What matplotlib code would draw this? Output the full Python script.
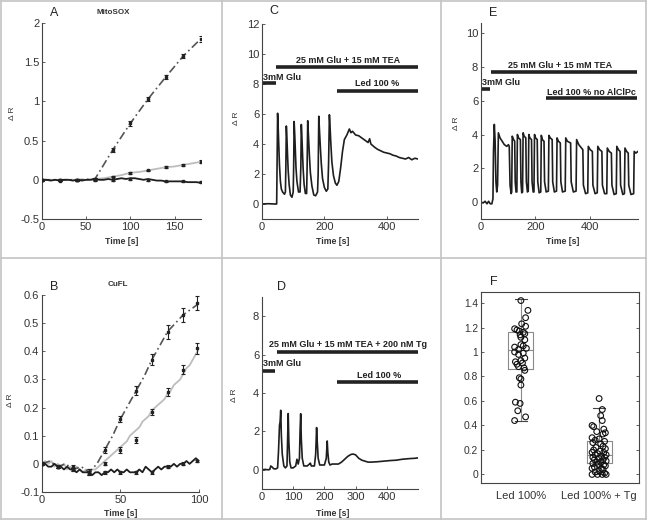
import matplotlib
matplotlib.use("Agg")
import matplotlib.pyplot as plt
from matplotlib.lines import Line2D
from matplotlib.ticker import FormatStrFormatter

plt.rcParams['font.family'] = ['Liberation Sans', 'DejaVu Sans']

W, H = 648, 522

# ---------------- Panel A (MitoSOX) ----------------
a_trace_t = list(range(0, 181, 5))
a_black = [0.00, 0.00, -0.01, 0.00, -0.01, 0.00, 0.00, -0.01, 0.00, -0.01, 0.00, 0.00, 0.01,
           0.00, 0.00, 0.01, 0.00, 0.01, 0.02, 0.01, 0.02, 0.02, 0.01, 0.00, 0.01, 0.00, -0.01,
           -0.01, -0.02, -0.02, -0.02, -0.02, -0.02, -0.03, -0.03, -0.03, -0.04]
a_gray_t = list(range(0, 181, 10))
a_gray = [0, 0, 0, 0, 0, 0, 0.01, 0.02, 0.04, 0.06, 0.09, 0.10, 0.12, 0.14, 0.16, 0.17, 0.19, 0.21, 0.23]
a_mark_t = [0, 20, 40, 60, 80, 100, 120, 140, 160, 180]
a_dark_m = [0.00, 0.00, 0.00, 0.01, 0.38, 0.72, 1.03, 1.31, 1.58, 1.80]
a_dark_e = [0.01, 0.01, 0.01, 0.01, 0.02, 0.03, 0.03, 0.03, 0.03, 0.04]
a_gray_m = [0.00, 0.00, 0.00, 0.01, 0.04, 0.09, 0.12, 0.16, 0.19, 0.23]
a_gray_e = [0.01, 0.01, 0.01, 0.01, 0.01, 0.01, 0.01, 0.01, 0.015, 0.02]
a_black_m = [0.00, -0.01, 0.00, 0.00, 0.00, 0.01, 0.00, -0.02, -0.02, -0.03]
a_black_e = [0.01] * 10

# ---------------- Panel B (CuFL) ----------------
b_trace_t = list(range(0, 101, 2))
b_black = [0.00, 0.00, -0.01, -0.01, 0.00, -0.01, -0.01, -0.02, -0.01, -0.02, -0.02,
           -0.03, -0.02, -0.03, -0.03, -0.03, -0.04, -0.03, -0.03, -0.04, -0.03,
           -0.03, -0.02, -0.03, -0.02, -0.03, -0.03, -0.02, -0.03, -0.03, -0.03,
           -0.02, -0.03, -0.01, -0.02, -0.03, -0.02, -0.01, -0.02, -0.01, -0.01,
           -0.01, 0.00, -0.01, 0.00, 0.00, 0.01, 0.00, 0.01, 0.02, 0.01]
b_gray = [0.00, 0.01, 0.00, 0.01, -0.01, 0.00, -0.01, 0.00, -0.02, -0.01, -0.02,
          -0.01, -0.02, -0.03, -0.02, -0.03, -0.02, -0.02, -0.01, 0.00, 0.01,
          0.02, 0.03, 0.04, 0.05, 0.06, 0.07, 0.08, 0.10, 0.11, 0.12,
          0.13, 0.15, 0.16, 0.17, 0.19, 0.20, 0.21, 0.22, 0.23, 0.25,
          0.26, 0.28, 0.29, 0.30, 0.32, 0.34, 0.35, 0.37, 0.39, 0.41]
b_dark_t = list(range(0, 101, 5))
b_dark = [0.00, 0.01, -0.01, 0.00, -0.02, -0.01, -0.03, 0.00, 0.05, 0.10, 0.16,
          0.21, 0.26, 0.31, 0.37, 0.42, 0.47, 0.50, 0.53, 0.55, 0.57]
b_mark_t = [0, 10, 20, 30, 40, 50, 60, 70, 80, 90, 99]
b_dark_m = [0.00, -0.01, -0.02, -0.03, 0.05, 0.16, 0.26, 0.37, 0.47, 0.53, 0.57]
b_dark_e = [0.005, 0.005, 0.005, 0.01, 0.01, 0.01, 0.015, 0.02, 0.025, 0.025, 0.025]
b_gray_m = [0.00, -0.01, -0.01, -0.03, 0.00, 0.05, 0.085, 0.185, 0.255, 0.335, 0.41]
b_gray_e = [0.005, 0.005, 0.005, 0.01, 0.005, 0.01, 0.01, 0.01, 0.015, 0.015, 0.02]
b_black_m = [0.00, -0.01, -0.02, -0.03, -0.03, -0.03, -0.03, -0.03, -0.01, 0.00, 0.01]
b_black_e = [0.005] * 11

# ---------------- Panel C ----------------
c_t = [0, 20, 40, 47, 48.5, 50, 52, 54, 56, 59, 62, 66, 72,
       75, 76.5, 78, 80, 82, 84, 87, 91, 96,
       100, 101.5, 103, 105, 107, 109, 112, 117, 122,
       124.5, 126, 128, 130, 132, 135, 139, 143,
       144.5, 146.5, 149, 152, 155, 160, 166, 172, 178,
       180, 182, 184, 187, 190, 194, 200, 206, 211,
       213.5, 216, 218, 221, 224, 229, 235, 240,
       246, 252, 258, 264, 272, 280, 285, 290, 300,
       310, 320, 330, 340, 345, 349, 360, 370, 380, 390, 400, 410, 420, 430, 440, 450,
       460, 470, 480, 490, 500]
c_v = [0, 0.02, 0, 0, 3.0, 6.05, 5.0, 3.8, 2.6, 1.5, 1.0, 0.8, 0.65,
       0.8, 2.5, 5.2, 4.3, 3.2, 2.2, 1.3, 0.6, 0.45,
       0.8, 2.5, 5.5, 4.6, 3.5, 2.4, 1.5, 0.8, 0.8,
       2.5, 5.3, 4.4, 3.3, 2.3, 1.3, 0.7, 0.7,
       2.3, 5.55, 4.5, 3.2, 2.1, 1.2, 0.6, 0.55, 0.8,
       2.0, 5.85, 5.0, 3.8, 2.7, 1.7, 1.1, 0.85, 1.0,
       2.8, 5.95, 5.2, 3.9, 2.8, 1.9, 1.4, 1.25,
       1.5, 2.4, 3.5, 4.3, 4.6, 5.0, 4.75, 4.85, 4.6,
       4.55, 4.4, 4.25, 4.1, 4.35, 4.0, 3.8, 3.65, 3.55, 3.45, 3.4, 3.35, 3.25, 3.2, 3.1, 3.05,
       3.0, 3.1, 2.95, 3.05, 3.0]

# ---------------- Panel D ----------------
d_t = [0, 10, 20, 25, 28, 32, 38, 45, 50, 53, 56, 58, 60, 62, 65, 70, 75, 80, 82, 84, 86, 89,
       93, 100, 108, 112, 116, 120, 122, 124, 126, 129, 134, 145, 152, 155, 158, 168, 172,
       175, 177, 180, 185, 200, 206, 209, 211, 214, 218, 225, 235, 245, 255, 265, 275, 285,
       292, 300, 310, 320, 330, 340, 350, 370, 390, 410, 430, 450, 470, 490, 500]
d_v = [0, 0.02, 0, 0.02, 0.2, 0.15, 0.05, 0.05, 0.1, 1.0, 2.3, 2.5, 3.1, 1.8, 0.8, 0.2, 0.1, 0.2, 1.5, 2.93, 1.5, 0.4,
       0.1, 0.1, 0.2, 0.55, 0.3, 0.6, 2.0, 2.92, 1.6, 0.6, 0.2, 0.2, 0.3, 0.35, 0.2, 0.2, 0.8,
       2.2, 1.5, 0.6, 0.25, 0.25, 0.6, 1.5, 0.9, 0.4, 0.25, 0.3, 0.3, 0.3, 0.4, 0.55, 0.7, 0.8,
       0.82, 0.78, 0.6, 0.5, 0.45, 0.4, 0.4, 0.42, 0.45, 0.48, 0.5, 0.55, 0.58, 0.6, 0.62]

# ---------------- Panel E ----------------
e_t = [0, 8, 15, 22, 28, 34, 40, 44, 46, 49, 52, 55, 58, 61, 64, 70, 78, 86, 95, 101, 104, 107, 111,
       113, 115, 120, 124, 126, 129, 132, 134, 138, 145, 147, 150, 153, 155, 159, 165, 167, 171,
       174, 176, 180, 186, 188, 192, 195, 197, 201, 207, 209, 214, 220, 222, 226, 232, 234, 240,
       248, 250, 255, 262, 264, 270, 278, 280, 285, 292, 294, 300, 310, 312, 318, 330, 332, 340,
       350, 352, 360, 375, 377, 385, 393, 395, 402, 410, 412, 420, 428, 430, 437, 445, 447, 455,
       463, 465, 472, 480, 482, 490, 498, 500, 506, 512, 514, 522, 528, 530, 536, 542, 544, 552,
       562, 564, 570, 578]
e_v = [0, -0.05, 0.05, -0.1, 0.05, -0.1, -0.1, 0.2, 3.0, 4.6, 3.6, 1.2, 0.6, 1.0, 4.1, 3.8, 3.6, 3.4, 3.3, 3.4, 3.3, 1.0, 0.5,
       0.6, 3.9, 3.7, 3.6, 1.2, 0.6, 0.6, 4.0, 3.8, 3.7, 1.2, 0.55, 0.6, 4.1, 3.9, 3.8, 1.2, 0.6,
       0.65, 4.0, 3.8, 3.7, 1.2, 0.6, 0.6, 4.0, 3.8, 3.7, 1.2, 0.55, 0.6, 3.95, 3.7, 3.6, 1.2, 0.6,
       0.65, 3.95, 3.8, 3.7, 1.2, 0.6, 0.65, 3.8, 3.6, 3.5, 1.2, 0.6, 0.65, 3.8, 3.6, 3.5, 1.2, 0.6,
       0.65, 3.7, 3.4, 3.1, 1.0, 0.5, 0.55, 3.3, 3.1, 3.0, 1.0, 0.5, 0.55, 3.3, 3.1, 3.0, 1.0, 0.5,
       0.5, 3.2, 3.0, 2.9, 1.0, 0.45, 0.5, 3.3, 3.1, 3.0, 1.0, 0.45, 0.5, 3.2, 3.0, 2.9, 1.0, 0.45,
       0.5, 3.0, 2.9, 3.0]

# ---------------- Panel F ----------------
f_labels = ['Led 100%', 'Led 100% + Tg']
f_g1 = [1.42, 1.34, 1.28, 1.23, 1.21, 1.19, 1.18, 1.17, 1.16, 1.15, 1.14, 1.12, 1.10, 1.06, 1.05,
        1.04, 1.03, 1.02, 1.00, 0.99, 0.98, 0.95, 0.93, 0.92, 0.91, 0.90, 0.88, 0.87, 0.85,
        0.79, 0.78, 0.73, 0.59, 0.58, 0.52, 0.47, 0.44]
f_g1_dx = [0.0, 0.09, 0.06, 0.01, 0.06, -0.08, -0.05, -0.02, 0.03, 0.05, -0.01, 0.0, 0.05, 0.0, 0.03,
           -0.08, 0.07, -0.03, -0.08, 0.03, -0.03, 0.05, 0.0, -0.07, 0.02, -0.05, -0.03, 0.04, 0.05,
           -0.02, 0.0, 0.0, -0.07, -0.01, -0.04, 0.06, -0.08]
f_g2 = [0.62, 0.53, 0.48, 0.44, 0.40, 0.39, 0.37, 0.35, 0.34, 0.33, 0.30, 0.29, 0.28, 0.27, 0.26,
        0.25, 0.23, 0.22, 0.21, 0.20, 0.19, 0.18, 0.18, 0.17, 0.16, 0.16, 0.15, 0.14, 0.14, 0.13,
        0.12, 0.12, 0.11, 0.10, 0.10, 0.09, 0.08, 0.08, 0.07, 0.06, 0.05, 0.05, 0.04, 0.03, 0.02,
        0.01, 0.00, 0.00, 0.00, 0.00]
f_g2_dx = [0.0, 0.04, 0.02, 0.04, -0.09, -0.07, 0.06, -0.03, 0.08, 0.05, -0.09, 0.0, -0.05, 0.07, -0.08,
           0.02, 0.05, -0.04, 0.08, -0.07, 0.01, -0.09, 0.06, -0.02, 0.09, -0.05, 0.03, -0.08, 0.07, 0.0,
           -0.06, 0.05, 0.09, -0.03, 0.02, -0.08, 0.06, -0.01, 0.08, -0.06, 0.03, -0.09, 0.05, 0.0, -0.05,
           0.07, -0.09, -0.02, 0.04, 0.09]
f_box1 = dict(q1=0.86, med=1.02, q3=1.16, lo=0.44, hi=1.43)
f_box2 = dict(q1=0.09, med=0.16, q3=0.275, lo=0.0, hi=0.54)

fig = plt.figure(figsize=(W / 100, H / 100), dpi=100)

def rect(l, r, t, b):
    return [l / W, 1 - b / H, (r - l) / W, (b - t) / H]

def ftext(x, y, s, **kw):
    fig.text(x / W, 1 - y / H, s, **kw)

TXT = '#333333'
def style(ax, box=False):
    for s in ['left', 'bottom', 'right', 'top']:
        ax.spines[s].set_color('#444444')
        ax.spines[s].set_linewidth(0.8)
    if not box:
        ax.spines['right'].set_visible(False)
        ax.spines['top'].set_visible(False)
    ax.tick_params(direction='in', length=2, width=0.6, colors='#444444',
                   labelsize=8, labelcolor=TXT, pad=2)
    ax.yaxis.set_major_formatter(FormatStrFormatter('%g'))
    ax.xaxis.set_major_formatter(FormatStrFormatter('%g'))

DARK = '#555555'
LIGHT = '#bdbdbd'
BLK = '#1e1e1e'
ekw = dict(fmt='s', ms=1.9, color='#222222', ecolor='#222222', elinewidth=0.8,
           capsize=1.2, capthick=0.8, zorder=5)

# Panel A
axA = fig.add_axes(rect(42, 201, 23, 219))
axA.plot(a_gray_t, a_gray, color=LIGHT, lw=1.3, zorder=2)
axA.plot(a_mark_t, a_dark_m, color=DARK, lw=1.2, ls=(0, (5, 2, 1, 2)), zorder=3)
axA.plot(a_trace_t, a_black, color=BLK, lw=1.3, zorder=4)
axA.errorbar(a_mark_t, a_dark_m, yerr=a_dark_e, **ekw)
axA.errorbar(a_mark_t, a_gray_m, yerr=a_gray_e, **ekw)
axA.errorbar(a_mark_t, a_black_m, yerr=a_black_e, **ekw)
axA.set_xlim(0, 180)
axA.set_ylim(-0.5, 2)
axA.set_xticks([0, 50, 100, 150])
axA.set_yticks([-0.5, 0, 0.5, 1, 1.5, 2])
style(axA)

# Panel B
axB = fig.add_axes(rect(42, 199, 295, 492))
axB.plot(b_trace_t, b_gray, color=LIGHT, lw=1.3, zorder=2)
axB.plot(b_dark_t, b_dark, color=DARK, lw=1.2, ls=(0, (5, 2, 1, 2)), zorder=3)
axB.plot(b_trace_t, b_black, color=BLK, lw=1.3, zorder=4)
axB.errorbar(b_mark_t, b_dark_m, yerr=b_dark_e, **ekw)
axB.errorbar(b_mark_t, b_gray_m, yerr=b_gray_e, **ekw)
axB.errorbar(b_mark_t, b_black_m, yerr=b_black_e, **ekw)
axB.set_xlim(0, 100)
axB.set_ylim(-0.1, 0.6)
axB.set_xticks([0, 50, 100])
axB.set_yticks([-0.1, 0, 0.1, 0.2, 0.3, 0.4, 0.5, 0.6])
style(axB)

barkw = dict(color='#222222', lw=2.6, solid_capstyle='butt')
bfont = dict(fontsize=6.5, fontweight='bold', color='#222222')

# Panel C
axC = fig.add_axes(rect(262, 418, 24, 219))
axC.plot(c_t, c_v, color=BLK, lw=1.2)
axC.plot([46, 500], [9.1, 9.1], **barkw)
axC.plot([0, 44], [8.05, 8.05], **barkw)
axC.plot([240, 500], [7.55, 7.55], **barkw)
axC.text(277, 9.55, '25 mM Glu + 15 mM TEA', ha='center', va='center', **bfont)
axC.text(3, 8.45, '3mM Glu', ha='left', va='center', **bfont)
axC.text(368, 8.0, 'Led 100 %', ha='center', va='center', **bfont)
axC.set_xlim(0, 500)
axC.set_ylim(-1, 12)
axC.set_xticks([0, 200, 400])
axC.set_yticks([0, 2, 4, 6, 8, 10, 12])
style(axC)

# Panel D
axD = fig.add_axes(rect(262, 418, 297, 489))
axD.plot(d_t, d_v, color=BLK, lw=1.2)
axD.plot([49, 500], [6.15, 6.15], **barkw)
axD.plot([0, 41], [5.15, 5.15], **barkw)
axD.plot([241, 500], [4.55, 4.55], **barkw)
axD.text(276, 6.55, '25 mM Glu + 15 mM TEA + 200 nM Tg', ha='center', va='center', **bfont)
axD.text(3, 5.55, '3mM Glu', ha='left', va='center', **bfont)
axD.text(375, 4.9, 'Led 100 %', ha='center', va='center', **bfont)
axD.set_xlim(0, 500)
axD.set_ylim(-1, 9)
axD.set_xticks([0, 100, 200, 300, 400])
axD.set_yticks([0, 2, 4, 6, 8])
style(axD)

# Panel E
axE = fig.add_axes(rect(481, 638, 23, 219))
axE.plot(e_t, e_v, color=BLK, lw=1.2)
axE.plot([37, 574], [7.72, 7.72], **barkw)
axE.plot([0, 34], [6.7, 6.7], **barkw)
axE.plot([239, 574], [6.14, 6.14], **barkw)
axE.text(292, 8.1, '25 mM Glu + 15 mM TEA', ha='center', va='center', **bfont)
axE.text(4, 7.05, '3mM Glu', ha='left', va='center', **bfont)
axE.text(408, 6.5, 'Led 100 % no AlClPc', ha='center', va='center', **bfont)
axE.set_xlim(0, 578)
axE.set_ylim(-1, 10.6)
axE.set_xticks([0, 200, 400])
axE.set_yticks([0, 2, 4, 6, 8, 10])
style(axE)

# Panel F
axF = fig.add_axes(rect(481, 639, 292, 483))
BOXC = '#8a8a8a'
for pos, bx in zip([1, 2], [f_box1, f_box2]):
    hw = 0.16
    axF.plot([pos - hw, pos + hw, pos + hw, pos - hw, pos - hw],
             [bx['q1'], bx['q1'], bx['q3'], bx['q3'], bx['q1']], color=BOXC, lw=0.8, zorder=1)
    axF.plot([pos - hw, pos + hw], [bx['med'], bx['med']], color=BOXC, lw=0.8, zorder=1)
    axF.plot([pos, pos], [bx['q3'], bx['hi']], color=BOXC, lw=0.8, zorder=1)
    axF.plot([pos, pos], [bx['lo'], bx['q1']], color=BOXC, lw=0.8, zorder=1)
    axF.plot([pos - 0.08, pos + 0.08], [bx['hi'], bx['hi']], color='#444444', lw=0.8, zorder=1)
    axF.plot([pos - 0.08, pos + 0.08], [bx['lo'], bx['lo']], color='#444444', lw=0.8, zorder=1)
axF.scatter([1 + d for d in f_g1_dx], f_g1, s=17, facecolors='none', edgecolors='#111111',
            linewidths=0.8, zorder=3)
axF.scatter([2 + d for d in f_g2_dx], f_g2, s=17, facecolors='none', edgecolors='#111111',
            linewidths=0.8, zorder=3)
axF.set_xlim(0.49, 2.51)
axF.set_ylim(-0.07, 1.49)
style(axF, box=True)
axF.set_xticks([1, 2])
axF.set_xticklabels(f_labels)
axF.set_yticks([0, 0.2, 0.4, 0.6, 0.8, 1.0, 1.2, 1.4])
axF.tick_params(axis='y', right=True, labelsize=7.4)
axF.tick_params(axis='x', length=0, labelsize=8, pad=6)

# Panel letters / titles / labels
lfont = dict(fontsize=9, color='#222222', ha='center', va='center')
ftext(54, 13, 'A', **lfont)
ftext(54, 287, 'B', **lfont)
ftext(274, 11, 'C', **lfont)
ftext(281, 287, 'D', **lfont)
ftext(493, 13, 'E', **lfont)
ftext(494, 282, 'F', **lfont)
tfont = dict(fontsize=5.8, fontweight='bold', color='#333333', ha='center', va='center')
ftext(113, 13, 'MitoSOX', **tfont)
ftext(118, 284, 'CuFL', **tfont)
xfont = dict(fontsize=6.3, fontweight='bold', color='#333333', ha='center', va='center')
for x, y in [(122, 241), (121, 513), (333, 241), (333, 513), (563, 241)]:
    ftext(x, y, 'Time [s]', **xfont)
for x, y in [(12, 113), (11, 400), (236, 118), (235, 395), (457, 123)]:
    ftext(x, y, 'Δ R', rotation=90, fontsize=6, color='#333333', ha='center', va='center')

# Panel frames
FR = '#c4c4c4'
def fline(x0, y0, x1, y1):
    fig.add_artist(Line2D([x0 / W, x1 / W], [1 - y0 / H, 1 - y1 / H], color=FR, lw=1.2,
                          transform=fig.transFigure))
fline(1, 1, 646, 1)
fline(1, 519, 646, 519)
fline(1, 1, 1, 519)
fline(646, 1, 646, 519)
fline(222, 1, 222, 519)
fline(441, 1, 441, 519)
fline(1, 258, 646, 258)

fig.savefig('out.png', dpi=100)
